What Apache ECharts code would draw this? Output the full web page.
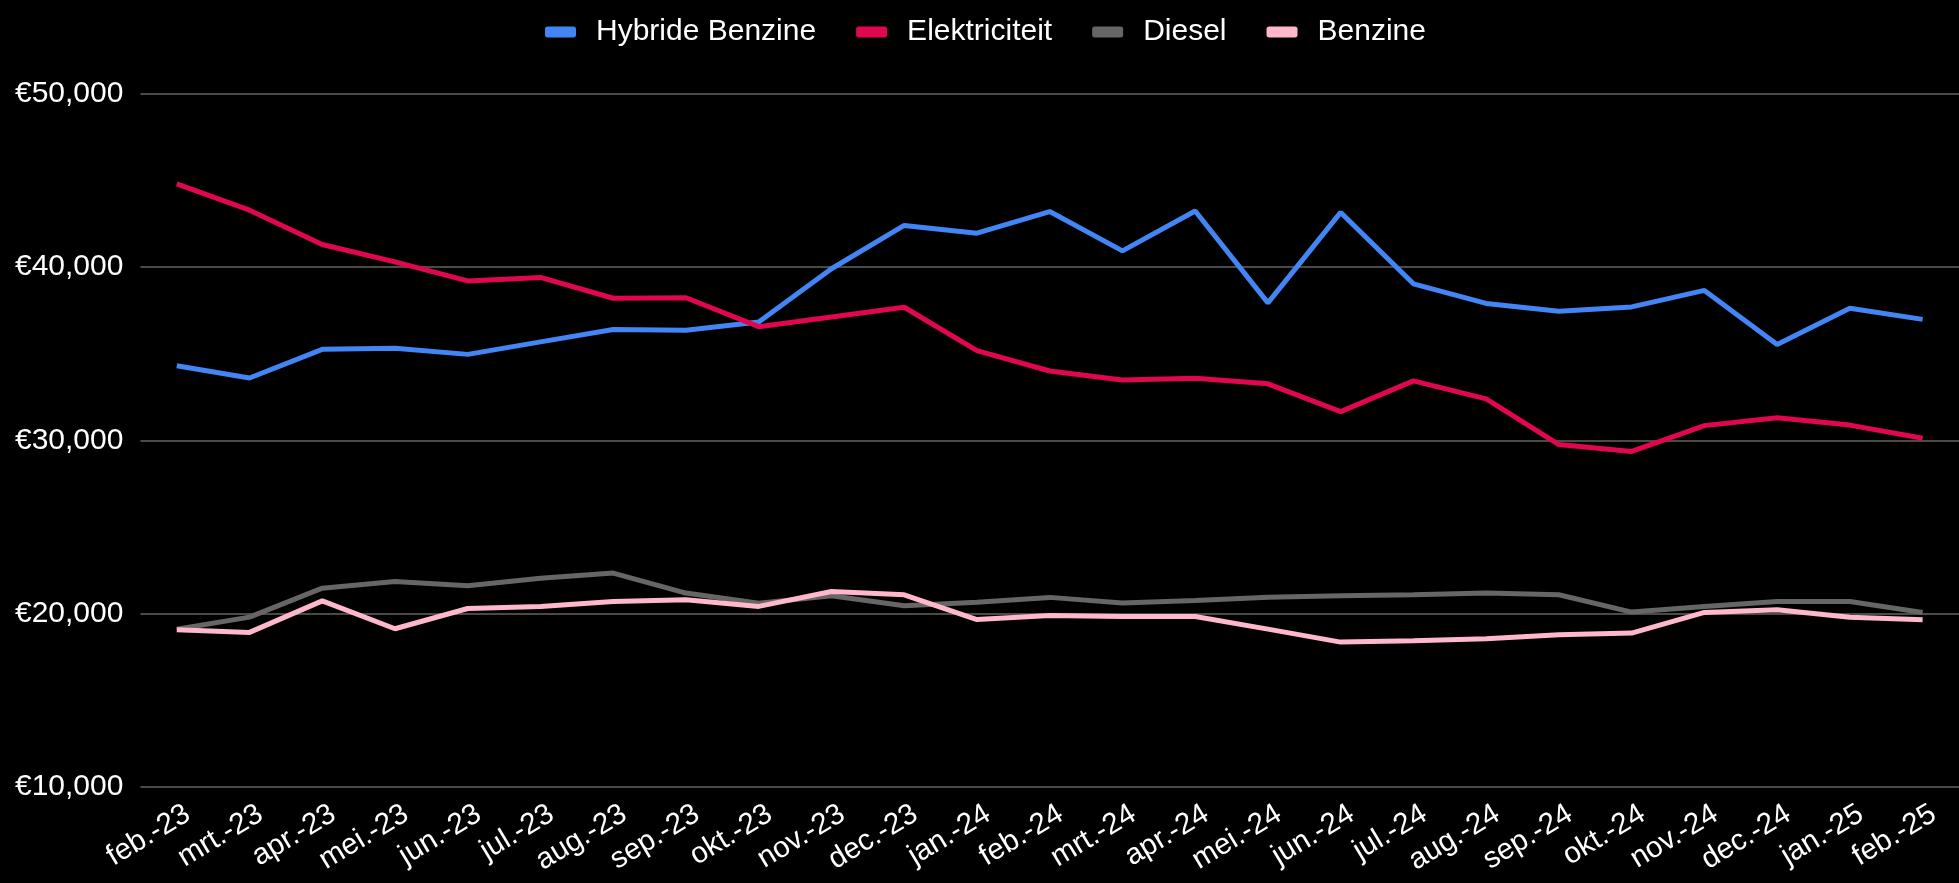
<!DOCTYPE html>
<html>
<head>
<meta charset="utf-8">
<script src="https://cdn.jsdelivr.net/npm/echarts@6/dist/echarts.min.js"></script>
<style>
html,body{margin:0;padding:0;background:#000;}
#chart{width:1959px;height:883px;}
</style>
</head>
<body>
<div id="chart"></div>
<script>
const categories = ['feb.-23','mrt.-23','apr.-23','mei.-23','jun.-23','jul.-23','aug.-23','sep.-23','okt.-23','nov.-23','dec.-23','jan.-24','feb.-24','mrt.-24','apr.-24','mei.-24','jun.-24','jul.-24','aug.-24','sep.-24','okt.-24','nov.-24','dec.-24','jan.-25','feb.-25'];
const seriesNames = ['Hybride Benzine','Elektriciteit','Diesel','Benzine'];
const hybrideBenzine = [34300,33600,35250,35320,34960,35680,36400,36350,36830,39900,42400,41950,43200,40930,43230,37930,43150,39030,37900,37450,37700,38650,35530,37620,36980];
const elektriciteit = [44800,43280,41300,40300,39200,39400,38200,38230,36560,37120,37680,35180,34000,33480,33580,33260,31660,33430,32390,29760,29360,30850,31310,30880,30120];
const diesel = [19100,19800,21470,21860,21610,22050,22340,21190,20600,21030,20460,20660,20940,20610,20760,20950,21030,21090,21190,21090,20090,20410,20700,20700,20070];
const benzine = [19070,18920,20740,19130,20300,20420,20700,20800,20420,21280,21090,19660,19900,19840,19840,19110,18360,18440,18550,18780,18880,20070,20230,19800,19650];
const yTicks = [10000,20000,30000,40000,50000];

const colors = ['#4285f4','#e0064f','#666666','#ffb7cb'];
const font = 'Arial, "Liberation Sans", sans-serif';
const chart = echarts.init(document.getElementById('chart'), null, {renderer:'canvas'});
const dataSets = [hybrideBenzine, elektriciteit, diesel, benzine];

chart.setOption({
  backgroundColor:'#000',
  animation:false,
  color:colors,
  legend:{
    left:545, top:17, padding:0,
    itemWidth:31, itemHeight:11, itemGap:40,
    icon:'roundRect',
    textStyle:{color:'#fff', fontSize:30, fontFamily:font, padding:[0,0,0,15], lineHeight:30},
    data:seriesNames
  },
  grid:{left:140.4, right:-11.5, top:93.7, bottom:96, containLabel:false},
  xAxis:{
    type:'category', data:categories, boundaryGap:true,
    axisLine:{show:false}, axisTick:{show:false},
    axisLabel:{interval:0, rotate:31, color:'#fff', fontSize:29.5, fontFamily:font, margin:14, align:'right', verticalAlign:'top', padding:[0,-4,0,0]}
  },
  yAxis:{
    type:'value', min:yTicks[0], max:yTicks[yTicks.length-1], interval:yTicks[1]-yTicks[0],
    axisLine:{show:false}, axisTick:{show:false},
    axisLabel:{color:'#fff', fontSize:30, fontFamily:font, margin:17,
      formatter:v => '€' + v.toLocaleString('en-US')},
    splitLine:{lineStyle:{color:'#4a4a4a', width:2}}
  },
  series: seriesNames.map((n,i)=>({
    name:n, type:'line', data:dataSets[i], symbol:'none',
    lineStyle:{width:5, color:colors[i]}, itemStyle:{color:colors[i]}
  }))
});
</script>
</body>
</html>
